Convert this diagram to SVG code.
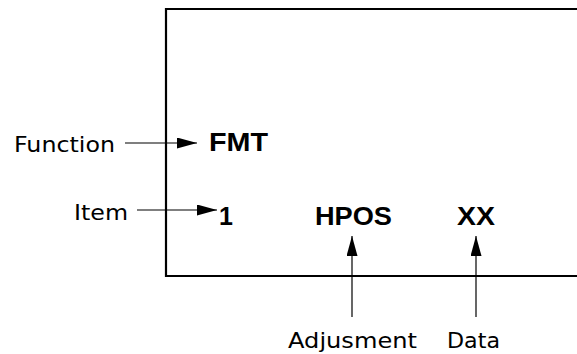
<svg xmlns="http://www.w3.org/2000/svg" width="577" height="354" viewBox="0 0 577 354">
<style>
.lbl{font-family:"DejaVu Sans",sans-serif;font-size:22px;fill:#000}
.val{font-family:"Liberation Sans",Arial,sans-serif;font-weight:bold;font-size:25px;fill:#000}
.con{stroke:#000;stroke-width:1.2;fill:none}
</style>
<defs>
<marker id="ah" markerUnits="userSpaceOnUse" markerWidth="20" markerHeight="11" refX="20" refY="5.5" orient="auto">
<polygon points="0,0 20,5.5 0,11" fill="#000"/>
</marker>
</defs>
<g id="frame">
<path d="M577,9 H166 V276 H577" fill="none" stroke="#000" stroke-width="2.2"/>
</g>
<g id="function"><text class="lbl" x="14" y="152" textLength="101" lengthAdjust="spacingAndGlyphs">Function</text></g>
<g id="item"><text class="lbl" x="74" y="220" textLength="54" lengthAdjust="spacingAndGlyphs">Item</text></g>
<g id="adjusment"><text class="lbl" x="288" y="348" textLength="129" lengthAdjust="spacingAndGlyphs">Adjusment</text></g>
<g id="data"><text class="lbl" x="447" y="348" textLength="53" lengthAdjust="spacingAndGlyphs">Data</text></g>
<g id="fmt"><text class="val" x="209" y="151" textLength="59" lengthAdjust="spacingAndGlyphs">FMT</text></g>
<g id="one"><text class="val" x="219" y="225">1</text></g>
<g id="hpos"><text class="val" x="315" y="225" textLength="77" lengthAdjust="spacingAndGlyphs">HPOS</text></g>
<g id="xx"><text class="val" x="457" y="225" textLength="38" lengthAdjust="spacingAndGlyphs">XX</text></g>
<g id="connectors">
<line class="con" x1="125" y1="143" x2="197" y2="143" marker-end="url(#ah)"/>
<line class="con" x1="137" y1="210" x2="217" y2="210" marker-end="url(#ah)"/>
<line class="con" x1="352" y1="317" x2="352" y2="236" marker-end="url(#ah)"/>
<line class="con" x1="476" y1="317" x2="476" y2="236" marker-end="url(#ah)"/>
</g>
</svg>
